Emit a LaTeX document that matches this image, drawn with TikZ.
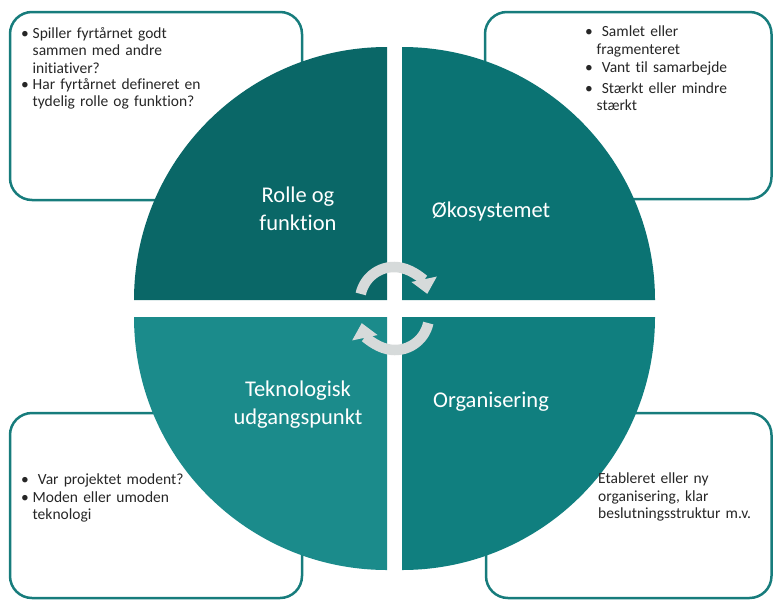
\documentclass[tikz,border=0pt]{standalone}
\usepackage{fontspec}
\setmainfont{Carlito}[Ligatures=NoCommon]
\usetikzlibrary{arrows.meta}
\definecolor{rollefarve}{HTML}{0A6767}
\definecolor{okofarve}{HTML}{0B7373}
\definecolor{teknofarve}{HTML}{1B8B8B}
\definecolor{orgfarve}{HTML}{107F7F}
\definecolor{rammefarve}{HTML}{177C7C}
\definecolor{pilfarve}{HTML}{D6DADA}
\definecolor{tekstfarve}{HTML}{262626}
\tikzstyle{ramme}=[draw=rammefarve,line width=2.5pt,rounded corners=22pt]
\tikzstyle{felt}=[text=white,font=\fontsize{22.5}{28}\selectfont,align=center,inner sep=0pt]
\tikzstyle{tekst}=[anchor=north west,inner sep=0pt,text width=260pt,align=left,text=tekstfarve,font=\fontsize{15.5}{17.5}\selectfont]
\tikzstyle{pil}=[draw=pilfarve,line width=10.5pt,-{Triangle[width=25pt,length=15pt]}]
\newcommand{\punkt}[1]{\noindent\makebox[11.5pt][l]{\textbullet}\parbox[t]{230pt}{#1}\par}

\begin{document}
\begin{tikzpicture}[x=1pt,y=-1pt]
    \useasboundingbox (0,0) rectangle (773,600);

    % rammer bag cirklen
    \draw[ramme] (10,12) rectangle (302,200);
    \draw[ramme] (485,12) rectangle (771.5,199);
    \draw[ramme] (10,413) rectangle (302,598);
    \draw[ramme] (486,413) rectangle (771.5,598);

    % kvadranter
    \foreach \cx/\cy/\v/\farve in {387/300/180/rollefarve, 402/300/270/okofarve, 387/317/90/teknofarve, 402/317/0/orgfarve} {
        \fill[\farve] (\cx,\cy) -- ++(\v:253) arc[start angle=\v, delta angle=90, radius=253] -- cycle;
    };

    \node[felt] (rolle) at (298,209) {Rolle og\\funktion};
    \node[felt,anchor=base] (oko) at (491,217) {Økosystemet};
    \node[felt] (tekno) at (298,405) {Teknologisk\\udgangspunkt};
    \node[felt,anchor=base] (org) at (491,407) {Organisering};

    % pile i midten
    \coordinate (piltop) at (394,301);
    \coordinate (pilbund) at (395,316);
    \draw[pil] ([shift={(-168:34)}]piltop) arc[start angle=-168, end angle=-12, radius=34];
    \draw[pil] ([shift={(12:34)}]pilbund) arc[start angle=12, end angle=168, radius=34];

    % tekster
    \node[tekst] (rolletekst) at (21,27) {\punkt{Spiller fyrtårnet godt\\sammen med andre\\initiativer?}\vspace{4pt}\punkt{Har fyrtårnet defineret en\\tydelig rolle og funktion?}};
    \node[tekst] (okotekst) at (585,26) {\punkt{\ Samlet eller\\fragmenteret}\vspace{3.5pt}\punkt{\ Vant til samarbejde}\vspace{3.5pt}\punkt{\ Stærkt eller mindre\\stærkt}};
    \node[tekst] (teknotekst) at (21,474) {\punkt{\ Var projektet modent?}\punkt{Moden eller umoden\\teknologi}};
    \node[tekst] (orgtekst) at (598,473) {Etableret eller ny\\organisering, klar\\beslutningsstruktur m.v.};
\end{tikzpicture}
\end{document}
